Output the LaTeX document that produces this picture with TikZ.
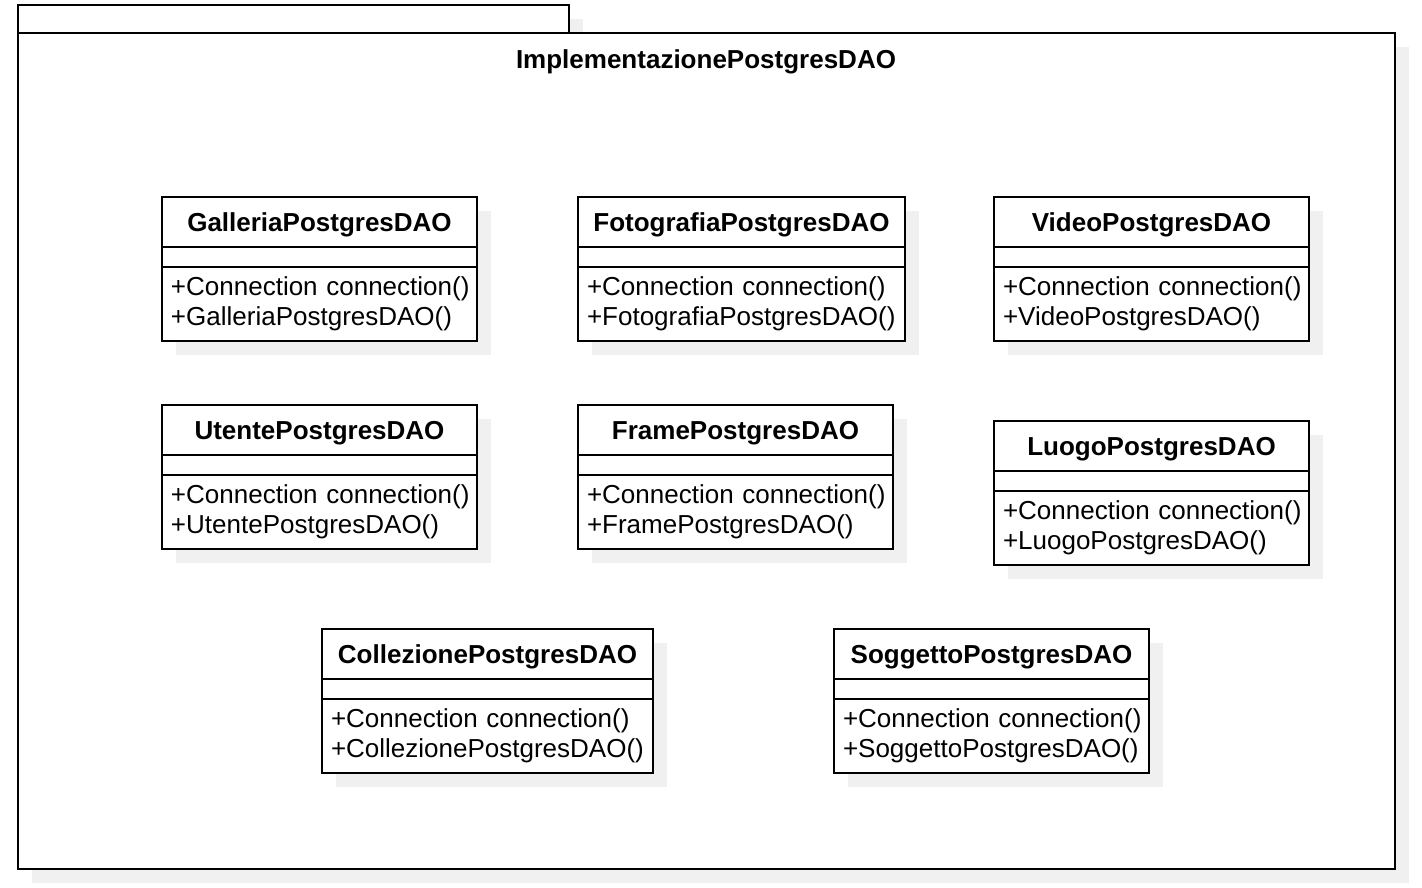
\documentclass[tikz,border=0pt]{standalone}
\usepackage{fontspec}
\setmainfont{Liberation Sans}
\usetikzlibrary{positioning,shadows}

\begin{document}
\begin{tikzpicture}[x=0.02cm, y=-0.02cm, line width=1.1pt, font=\fontsize{14.8}{17}\selectfont]
  \useasboundingbox (0,0) rectangle (1422,887);
  \tikzstyle{shad} = [drop shadow={shadow xshift=0.28cm, shadow yshift=-0.28cm, fill=black!6, opacity=1}]
  \tikzstyle{pnode} = [draw=black, fill=white, rectangle, inner sep=0pt, outer sep=0pt, anchor=north west, shad]
  \tikzstyle{tnode} = [font=\fontsize{14.8}{17}\selectfont\bfseries, text height=13pt, text depth=2.4pt]
  \tikzstyle{hnode} = [pnode, tnode, anchor=north, minimum height=1cm]
  \tikzstyle{anode} = [pnode, minimum height=0.4cm]
  \tikzstyle{mnode} = [pnode, minimum height=1.48cm, inner xsep=0.18cm, align=left]

  % package
  \node[pnode, minimum width=11.02cm, minimum height=0.56cm] (tab) at (18,5) {};
  \node[pnode, minimum width=27.54cm, minimum height=16.72cm] (pkg) at (18,33) {};
  \node[tnode, inner sep=0pt] (title) at (706,59) {ImplementazionePostgresDAO};

  % classes: name / left / top / width
  \foreach \n/\x/\y/\w [evaluate=\w as \tw using 0.02*\w-0.36] in
    {Galleria/162/197/315, Fotografia/578/197/327, Video/994/197/315,
     Utente/162/405/315, Frame/578/405/315, Luogo/994/421/315,
     Collezione/322/629/331, Soggetto/834/629/315}
  {
    \node[hnode, minimum width=0.02cm*\w] (\n) at (\x+\w/2,\y) {\n PostgresDAO};
    \node[anode, minimum width=0.02cm*\w, below=0pt of \n] (\n-at) {};
    \node[mnode, text width=\tw cm, below=0pt of \n-at] (\n-op)
      {\mbox{+Connection connection()}\\\mbox{+\n PostgresDAO()}};
  }
\end{tikzpicture}
\end{document}
